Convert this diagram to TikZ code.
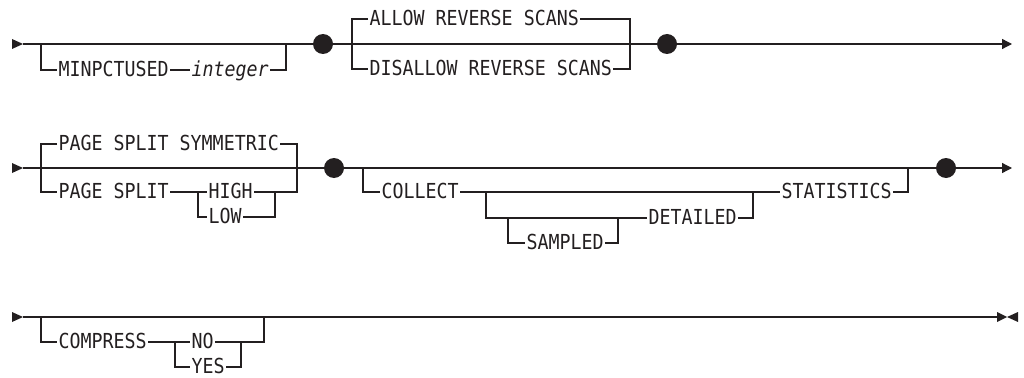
\documentclass[tikz,border=0pt]{standalone}
\usepackage{fontspec}
\usetikzlibrary{arrows.meta}
\newfontfamily\railfont{DejaVu Sans Mono}[FakeStretch=0.885]
\definecolor{railink}{RGB}{35,31,32}

% start and stop marks of a rail
\newcommand{\railstart}[1]{\fill[railink] (#1) -- ++(-11,-5) -- ++(0,10) -- cycle;}
\newcommand{\railstop}[1]{\fill[railink] (#1) -- ++(0,-5) -- ++(10,5) -- ++(11,-5) -- ++(0,10) -- ++(-11,-5) -- ++(-10,5) -- cycle;}

\begin{document}
\begin{tikzpicture}[
  x=0.75pt, y=-0.75pt,
  rail/.style={draw=railink, line width=0.95pt},
  kw/.style={
    anchor=west,
    inner xsep=1pt,
    inner ysep=0pt,
    text height=11.3pt,
    text depth=2pt,
    font=\railfont\fontsize{15.5pt}{17pt}\selectfont,
    text=railink
  },
  var/.style={kw, font=\railfont\fontsize{15.5pt}{17pt}\selectfont\itshape},
  dot/.style={circle, fill=railink, minimum size=15pt, inner sep=0pt},
  endarrow/.style={rail, -{Triangle[length=7.5pt,width=7.5pt]}}
]
\useasboundingbox (0,0) rectangle (1024,378);

% ===== Row 1: MINPCTUSED / REVERSE SCANS =====
\coordinate (s1) at (23,44);
\coordinate (e1) at (1012,44);
\railstart{s1}
\node[dot] (dot1) at (323,44) {};
\node[dot] (dot2) at (667,44) {};

\coordinate (j1) at (41,44);
\coordinate (j2) at (286,44);
\node[kw] (minpct) at (57,70) {MINPCTUSED};
\node[var] (integer) at (190,70) {integer};
\draw[rail] (s1) -- (dot1);
\draw[rail] (j1) |- (minpct.west);
\draw[rail] (minpct) -- (integer);
\draw[rail] (integer.east) -| (j2);

\coordinate (j3) at (352,44);
\coordinate (j4) at (630,44);
\node[kw] (allow) at (368,19) {ALLOW REVERSE SCANS};
\node[kw] (disallow) at (368,69) {DISALLOW REVERSE SCANS};
\draw[rail] (dot1) -- (dot2);
\draw[rail] (allow.west) -| (j3) |- (disallow.west);
\draw[rail] (allow.east) -| (j4) |- (disallow.east);
\draw[endarrow] (dot2) -- (e1);

% ===== Row 2: PAGE SPLIT / COLLECT STATISTICS =====
\coordinate (s2) at (23,168);
\coordinate (e2) at (1012,168);
\railstart{s2}
\node[dot] (dot3) at (334,168) {};
\node[dot] (dot4) at (946,168) {};

\coordinate (j5) at (41,168);
\coordinate (j6) at (297,168);
\coordinate (j7) at (198,192);
\coordinate (j8) at (275,192);
\node[kw] (symm) at (57,144) {PAGE SPLIT SYMMETRIC};
\node[kw] (pgsplit) at (57,192) {PAGE SPLIT};
\node[kw] (high) at (207,192) {HIGH};
\node[kw] (low) at (207,217) {LOW};
\draw[rail] (s2) -- (dot3);
\draw[rail] (symm.west) -| (j5) |- (pgsplit.west);
\draw[rail] (symm.east) -| (j6) |- (j8);
\draw[rail] (pgsplit) -- (j7) -- (high);
\draw[rail] (j7) |- (low.west);
\draw[rail] (high) -- (j8) |- (low.east);

\coordinate (j9) at (363,168);
\coordinate (j10) at (908,168);
\coordinate (j11) at (486,192);
\coordinate (j12) at (753,192);
\coordinate (j13) at (508,218);
\coordinate (j14) at (618,218);
\node[kw] (collect) at (380,192) {COLLECT};
\node[kw] (stats) at (780,192) {STATISTICS};
\node[kw] (detailed) at (647,218) {DETAILED};
\node[kw] (sampled) at (525,243) {SAMPLED};
\draw[rail] (dot3) -- (dot4);
\draw[rail] (j9) |- (collect.west);
\draw[rail] (collect) -- (stats);
\draw[rail] (stats.east) -| (j10);
\draw[rail] (j11) |- (detailed.west);
\draw[rail] (detailed.east) -| (j12);
\draw[rail] (j13) |- (sampled.west);
\draw[rail] (sampled.east) -| (j14);
\draw[endarrow] (dot4) -- (e2);

% ===== Row 3: COMPRESS =====
\coordinate (s3) at (23,317);
\coordinate (e3) at (997,317);
\railstart{s3}

\coordinate (j15) at (41,317);
\coordinate (j16) at (264,317);
\coordinate (j17) at (175,342);
\coordinate (j18) at (241,342);
\coordinate (k1) at (270,317);
\coordinate (k2) at (290,317);
\node[kw] (compress) at (57,342) {COMPRESS};
\node[kw] (no) at (190,342) {NO};
\node[kw] (yes) at (190,367) {YES};
\draw[rail] (s3) -- (e3);
\draw[rail] (j15) |- (compress.west);
\draw[rail] (compress) -- (j17) -- (no);
\draw[rail] (j17) |- (yes.west);
\draw[rail] (no) -- (j18) |- (yes.east);
\draw[rail] (j18) -| (j16);
\draw[rail, line width=1.6pt] (k1) -- (k2);
\railstop{e3}

\end{tikzpicture}
\end{document}
